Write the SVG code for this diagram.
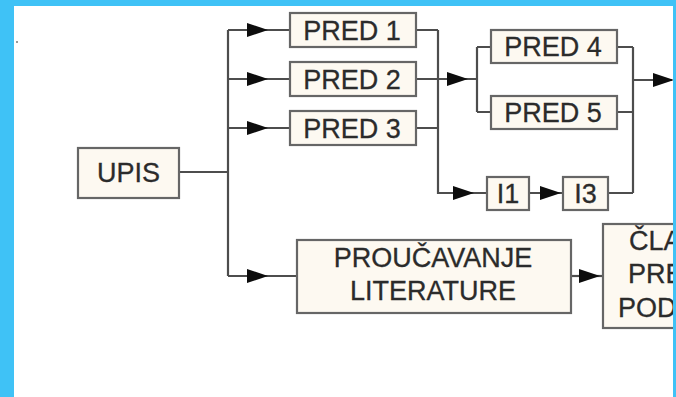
<svg xmlns="http://www.w3.org/2000/svg" xmlns:xlink="http://www.w3.org/1999/xlink" width="676" height="397" viewBox="0 0 676 397">
  <style>
    .box { fill: #fdf9f1; stroke: #666666; stroke-width: 2.2; }
    .lbl { font-family: "Liberation Sans", Arial, sans-serif; font-size: 27px; fill: #2b2b2b; text-anchor: middle; stroke: #2b2b2b; stroke-width: 0.3; }
    .lbs { font-family: "Liberation Sans", Arial, sans-serif; font-size: 27px; fill: #2b2b2b; text-anchor: start; stroke: #2b2b2b; stroke-width: 0.3; }
    .wire { fill: none; stroke: #4d4d4d; stroke-width: 2.2; }
    .ah { fill: #0d0d0d; }
  </style>
  <defs>
    <path id="ah" d="M-21,-7 L0,0 L-21,7 Z"/>
  </defs>
  <rect x="0" y="0" width="676" height="397" fill="#ffffff"/>
  <circle cx="17" cy="42" r="1" fill="#777777"/>

  <g id="connectors">
    <path class="wire" d="M179,172 H228 M228,30 V276 M228,30 H290 M228,79 H290 M228,128 H290 M228,276 H297"/>
    <path class="wire" d="M416,30 H438 M416,79 H477 M416,128 H438 M438,30 V193 H487"/>
    <path class="wire" d="M477,47 V112 M477,47 H491 M477,112 H491"/>
    <path class="wire" d="M529,193 H563"/>
    <path class="wire" d="M617,47 H633 M617,112 H633 M608,193 H633 M633,47 V193 M633,80 H672"/>
    <path class="wire" d="M571,276 H603"/>
    <g class="ah">
      <use xlink:href="#ah" x="268" y="30"/>
      <use xlink:href="#ah" x="268" y="79"/>
      <use xlink:href="#ah" x="268" y="128"/>
      <use xlink:href="#ah" x="268" y="276"/>
      <use xlink:href="#ah" x="468" y="79"/>
      <use xlink:href="#ah" x="474" y="193"/>
      <use xlink:href="#ah" x="561" y="193"/>
      <use xlink:href="#ah" x="600" y="276"/>
      <use xlink:href="#ah" x="674" y="80"/>
    </g>
  </g>

  <g id="upis">
    <rect class="box" x="78" y="148" width="101" height="50"/>
    <text class="lbl" x="128.5" y="182">UPIS</text>
  </g>
  <g id="pred1">
    <rect class="box" x="290" y="13" width="126" height="34"/>
    <text class="lbl" x="352" y="39.5">PRED 1</text>
  </g>
  <g id="pred2">
    <rect class="box" x="290" y="62" width="126" height="34"/>
    <text class="lbl" x="352" y="88.5">PRED 2</text>
  </g>
  <g id="pred3">
    <rect class="box" x="290" y="111" width="126" height="34"/>
    <text class="lbl" x="352" y="137.5">PRED 3</text>
  </g>
  <g id="pred4">
    <rect class="box" x="491" y="30" width="126" height="33"/>
    <text class="lbl" x="553" y="56">PRED 4</text>
  </g>
  <g id="pred5">
    <rect class="box" x="491" y="96" width="126" height="33"/>
    <text class="lbl" x="553" y="122">PRED 5</text>
  </g>
  <g id="i1">
    <rect class="box" x="487" y="177" width="42" height="33"/>
    <text class="lbl" x="508" y="203">I1</text>
  </g>
  <g id="i3">
    <rect class="box" x="563" y="177" width="45" height="33"/>
    <text class="lbl" x="585.5" y="203">I3</text>
  </g>
  <g id="proucavanje">
    <rect class="box" x="297" y="240" width="274" height="73"/>
    <text class="lbl" x="433" y="267">PROUČAVANJE</text>
    <text class="lbl" x="433" y="300">LITERATURE</text>
  </g>
  <g id="clanak">
    <rect class="box" x="603" y="224" width="110" height="104"/>
    <text class="lbs" x="629" y="250">ČLA</text>
    <text class="lbs" x="628" y="283">PRE</text>
    <text class="lbs" x="618" y="317">POD</text>
  </g>

  <path fill="#3fc2f6" fill-rule="evenodd" d="M0,0 H676 V397 H0 Z M14,6 V397 H673 V6 Z"/>
</svg>
